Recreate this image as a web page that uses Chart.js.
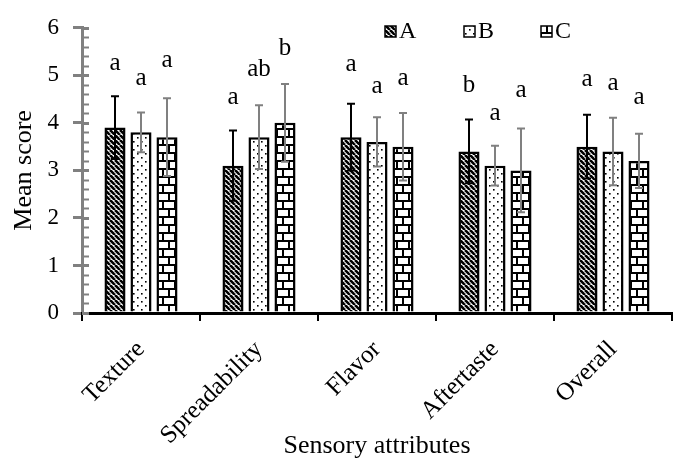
<!DOCTYPE html>
<html><head><meta charset="utf-8">
<script src="https://cdn.jsdelivr.net/npm/chart.js@4.4.0/dist/chart.umd.min.js"></script>
<style>html,body{margin:0;padding:0;background:#fff}#wrap{width:674px;height:459px;position:relative}</style>
</head><body><div id="wrap"><canvas id="c" width="674" height="459"></canvas></div>
<script>
const categories = ['Texture','Spreadability','Flavor','Aftertaste','Overall'];
const seriesNames = ['A','B','C'];
const meanA = [3.9,3.1,3.7,3.4,3.5];
const meanB = [3.8,3.7,3.6,3.1,3.4];
const meanC = [3.7,4.0,3.5,3.0,3.2];
const sdA = [0.66,0.74,0.70,0.67,0.67];
const sdB = [0.42,0.67,0.52,0.42,0.71];
const sdC = [0.82,0.82,0.71,0.88,0.57];
const letterA = ['a','a','a','b','a'];
const letterB = ['a','ab','a','a','a'];
const letterC = ['a','b','a','a','a'];
const letterYA = [5.11,4.39,5.09,4.65,4.77];
const letterYB = [4.79,4.98,4.63,4.06,4.70];
const letterYC = [5.18,5.42,4.80,4.54,4.39];
const yMin = 0, yMax = 6, yStep = 1, yMinorStep = 0.2;

const FONT = '"Liberation Serif", "Times New Roman", serif';

function mkCanvas(w,h){const c=document.createElement('canvas');c.width=w;c.height=h;return c;}
const ctx0 = document.getElementById('c').getContext('2d');

function patDiag(){
  const s=5,c=mkCanvas(s,s),g=c.getContext('2d');
  g.fillStyle='#fff';g.fillRect(0,0,s,s);
  g.strokeStyle='#000';g.lineWidth=2.6;
  for(const o of [-s,0,s]){g.beginPath();g.moveTo(o,0);g.lineTo(o+s,s);g.stroke();}
  return ctx0.createPattern(c,'repeat');
}
function patDots(){
  const s=8,c=mkCanvas(s,s),g=c.getContext('2d');
  g.fillStyle='#fff';g.fillRect(0,0,s,s);
  g.fillStyle='#000';
  g.fillRect(1,1,1.6,1.6);g.fillRect(5,5,1.6,1.6);
  return ctx0.createPattern(c,'repeat');
}
function patBrick(){
  const w=12,h=16,c=mkCanvas(w,h),g=c.getContext('2d');
  g.fillStyle='#fff';g.fillRect(0,0,w,h);
  g.fillStyle='#000';
  g.fillRect(0,0,w,2);g.fillRect(0,8,w,2);
  g.fillRect(0,0,2,8);g.fillRect(6,8,2,8);
  return ctx0.createPattern(c,'repeat');
}
const patterns=[patDiag(),patDots(),patBrick()];
const means=[meanA,meanB,meanC], sds=[sdA,sdB,sdC];
const letters=[letterA,letterB,letterC], letterYs=[letterYA,letterYB,letterYC];
const errColors=['#000','#808080','#808080'];

const extras = {
  id:'extras',
  afterDatasetsDraw(chart){
    const g=chart.ctx, ys=chart.scales.y;
    g.save();
    chart.data.datasets.forEach((ds,i)=>{
      const meta=chart.getDatasetMeta(i);
      meta.data.forEach((el,j)=>{
        const m=means[i][j], sd=sds[i][j];
        const yt=ys.getPixelForValue(m+sd), yb=ys.getPixelForValue(m-sd);
        g.strokeStyle=errColors[i];g.lineWidth=2;
        g.beginPath();
        g.moveTo(el.x,yt);g.lineTo(el.x,yb);
        g.moveTo(el.x-4,yt);g.lineTo(el.x+4,yt);
        g.moveTo(el.x-4,yb);g.lineTo(el.x+4,yb);
        g.stroke();
        g.fillStyle='#000';g.font='25px '+FONT;g.textAlign='center';g.textBaseline='alphabetic';
        g.fillText(letters[i][j],el.x,ys.getPixelForValue(letterYs[i][j]));
      });
    });
    g.restore();
  },
  afterDraw(chart){
    const g=chart.ctx, ys=chart.scales.y, ax=chart.chartArea.left;
    g.save();
    const n=Math.round((yMax-yMin)/yMinorStep);
    for(let k=0;k<=n;k++){
      const v=yMin+k*yMinorStep, y=Math.round(ys.getPixelForValue(v))+0.5;
      const major=Math.abs(v-Math.round(v))<1e-6;
      g.strokeStyle='#808080';g.lineWidth=major?3:2;
      g.beginPath();g.moveTo(ax,y);g.lineTo(ax+7,y);g.stroke();
    }
    // legend
    const xs=[385,464,541];
    g.font='24px '+FONT;g.textBaseline='middle';g.textAlign='left';
    chart.data.datasets.forEach((ds,i)=>{
      g.fillStyle=ds.backgroundColor;g.fillRect(xs[i],26,11,11);
      g.strokeStyle='#000';g.lineWidth=1.5;g.strokeRect(xs[i],26,11,11);
      g.fillStyle='#000';g.fillText(ds.label,xs[i]+14,32);
    });
    g.restore();
  }
};

new Chart(document.getElementById('c'),{
  type:'bar',
  data:{labels:categories,datasets:seriesNames.map((n,i)=>({
    label:n,data:means[i],backgroundColor:patterns[i],borderColor:'#000',borderWidth:2.5,
    categoryPercentage:0.661,barPercentage:0.81
  }))},
  options:{
    responsive:false,animation:false,
    layout:{padding:{top:22,right:2,left:0,bottom:0}},
    plugins:{legend:{display:false},tooltip:{enabled:false}},
    scales:{
      y:{min:yMin,max:yMax,
        ticks:{stepSize:yStep,color:'#000',font:{family:FONT,size:23},padding:14},
        border:{color:'#808080',width:3},
        grid:{drawOnChartArea:false,drawTicks:true,tickLength:9,color:'#808080',lineWidth:3},
        title:{display:true,text:'Mean score',color:'#000',font:{family:FONT,size:26,lineHeight:1},padding:{top:11,bottom:0}},
        afterFit(s){s.width=82;}
      },
      x:{
        ticks:{color:'#000',font:{family:FONT,size:25},minRotation:45,maxRotation:45,padding:14},
        border:{color:'#000',width:3},
        grid:{drawOnChartArea:false,drawTicks:true,tickLength:8,color:'#000',lineWidth:2,offset:true},
        title:{display:true,text:'Sensory attributes',color:'#000',font:{family:FONT,size:26,lineHeight:1},padding:{top:0,bottom:0}},
        afterFit(s){s.height=146;}
      }
    }
  },
  plugins:[extras]
});
</script></body></html>
